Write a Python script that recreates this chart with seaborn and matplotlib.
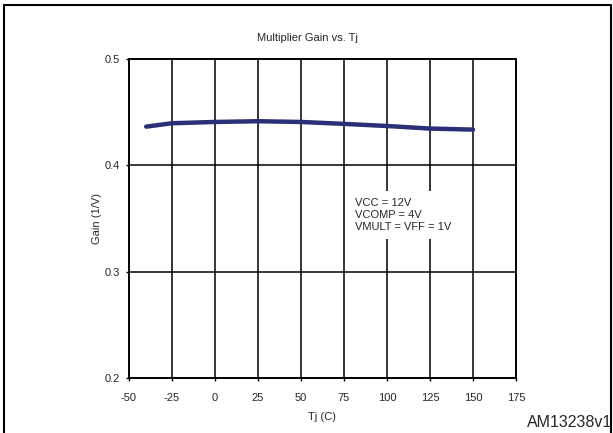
import matplotlib
matplotlib.use("Agg")
import matplotlib.pyplot as plt
import seaborn as sns
import pandas as pd
from matplotlib.lines import Line2D

# values
tj = [-40, -25, 0, 25, 50, 75, 100, 125, 150]
gain = [0.4364, 0.4396, 0.4408, 0.4415, 0.4408, 0.4390, 0.4370, 0.4346, 0.4336]

x_ticks = [-50, -25, 0, 25, 50, 75, 100, 125, 150, 175]
y_ticks = [0.2, 0.3, 0.4, 0.5]
conditions = "VCC = 12V\nVCOMP = 4V\nVMULT = VFF = 1V"

sns.set_style("white")
plt.rcParams['font.family'] = ['Liberation Sans', 'DejaVu Sans']

df = pd.DataFrame({"Tj": tj, "Gain": gain})

fig = plt.figure(figsize=(6.13, 4.33), dpi=100)
ax = fig.add_axes([0.2104, 0.127, 0.6314, 0.7367])

sns.lineplot(data=df, x="Tj", y="Gain", ax=ax, color="#2b2f78",
             linewidth=3.2, solid_capstyle="round", solid_joinstyle="round", zorder=5)

ax.set_xlim(-50, 175)
ax.set_ylim(0.2, 0.5)
ax.set_xticks(x_ticks)
ax.set_yticks(y_ticks)
ax.set_xticklabels([str(v) for v in x_ticks], fontsize=8)
ax.set_yticklabels([f"{v:.1f}" for v in y_ticks], fontsize=8)
ax.tick_params(axis="both", direction="out", length=2.5, width=1, color="black", left=True, bottom=True)
ax.tick_params(axis="x", pad=8)
ax.tick_params(axis="y", pad=4)

for v in x_ticks[1:-1]:
    ax.axvline(v, color="black", linewidth=1.1, zorder=1)
for v in y_ticks[1:-1]:
    ax.axhline(v, color="black", linewidth=1.1, zorder=1)

for s in ax.spines.values():
    s.set_color("black")
    s.set_linewidth(1.4)

ax.set_xlabel("Tj (C)", fontsize=8, labelpad=7)
ax.set_ylabel("Gain (1/V)", fontsize=8, labelpad=2)

ax.text(81.3, 0.3535, conditions, fontsize=8, va="center", ha="left",
        linespacing=1.25, zorder=3,
        bbox=dict(facecolor="white", edgecolor="none", pad=5))

fig.text(0.501, 0.913, "Multiplier Gain vs. Tj", fontsize=8, ha="center", va="center")
fig.text(0.998, 0.024, "AM13238v1", fontsize=11.5, ha="right", va="center")

# outer frame
fig.add_artist(Line2D([0.007, 0.007], [0, 0.988], color="black", linewidth=1.5, transform=fig.transFigure))
fig.add_artist(Line2D([0.007, 0.996], [0.988, 0.988], color="black", linewidth=1.5, transform=fig.transFigure))
fig.add_artist(Line2D([0.996, 0.996], [0, 0.988], color="black", linewidth=1.5, transform=fig.transFigure))

fig.savefig("out.png", dpi=100)
